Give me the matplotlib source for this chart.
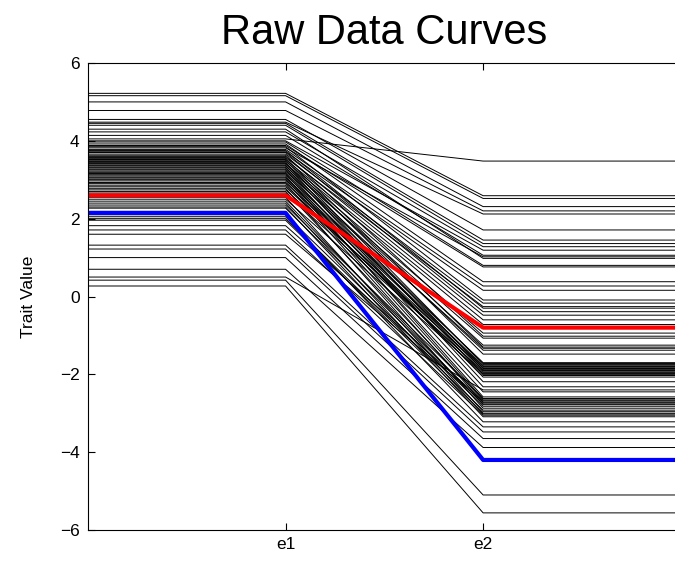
import numpy as np
import matplotlib
matplotlib.use('Agg')
import matplotlib.pyplot as plt

plt.rcParams['font.family'] = ['Liberation Sans', 'DejaVu Sans']

# trait value at e1 and at e2 for each curve
e1_vals = [5.22, 5.16, 5.00, 4.78, 4.55, 4.48, 4.45, 4.40, 4.30, 4.23,
           4.14, 4.05, 4.00, 3.97, 3.92, 3.88, 3.85, 3.82, 3.78, 3.75,
           3.72, 3.70, 3.66, 3.63, 3.60, 3.57, 3.55, 3.52, 3.50, 3.47,
           3.44, 3.42, 3.40, 3.37, 3.35, 3.32, 3.30, 3.27, 3.25, 3.22,
           3.19, 3.16, 3.13, 3.10, 3.07, 3.05, 3.02, 3.00, 2.97, 2.93,
           2.90, 2.86, 2.82, 2.78, 2.74, 2.70, 2.66, 2.55, 2.50, 2.45,
           2.40, 2.35, 2.30, 2.27, 2.10, 2.05, 2.00, 1.96, 1.82, 1.71,
           1.60, 1.32, 1.22, 1.00, 0.70, 0.50, 0.42, 0.27]
e2_vals = [2.59, 2.52, 2.31, 2.20, 1.71, 2.12, 1.45, 1.36, 0.98, 1.28,
           1.06, 3.48, 1.19, 0.80, 0.38, 0.76, -0.09, 1.02, 0.27, -0.30,
           0.16, -0.39, -0.17, -1.02, -0.48, -0.26, -1.30, -0.60, -1.48, -0.72,
           -1.75, -0.94, -1.25, -1.85, -1.07, -2.00, -1.38, -1.72, -2.19, -1.33,
           -1.90, -2.32, -1.70, -2.58, -1.78, -2.07, -2.45, -1.80, -2.63, -1.88,
           -2.73, -2.03, -1.95, -2.87, -1.83, -2.66, -1.92, -2.96, -1.98, -2.78,
           -3.02, -2.62, -3.09, -2.76, -2.82, -3.22, -2.92, -3.00, -2.68, -3.05,
           -2.71, -3.35, -3.48, -3.65, -3.88, -2.40, -5.10, -5.56]

red_curve = [2.60, -0.80]
blue_curve = [2.15, -4.20]

xs = [0, 1, 2, 3]
xlabels = ['e1', 'e2']

fig = plt.figure(figsize=(6.75, 5.63), dpi=100)
ax = fig.add_axes([0.1304, 0.0586, 0.878, 0.8295])

for a, b in zip(e1_vals, e2_vals):
    ax.plot(xs, [a, a, b, b], color='black', lw=0.7)
ax.plot(xs, [red_curve[0], red_curve[0], red_curve[1], red_curve[1]], color='red', lw=3)
ax.plot(xs, [blue_curve[0], blue_curve[0], blue_curve[1], blue_curve[1]], color='blue', lw=3)

ax.set_xlim(0, 3)
ax.set_ylim(-6, 6)
ax.set_xticks([1, 2])
ax.set_xticklabels(xlabels)
ax.set_yticks(np.arange(-6, 7, 2))
ax.tick_params(direction='in', labelsize=12.5, length=5, top=True, right=False)
ax.tick_params(axis='x', pad=5)
ax.tick_params(axis='y', pad=6)
ax.set_ylabel('Trait Value', fontsize=12.5)
ax.yaxis.set_label_coords(-0.088, 0.5)
ax.set_title('Raw Data Curves', fontsize=30, pad=14)

fig.savefig('out.png', dpi=100)
